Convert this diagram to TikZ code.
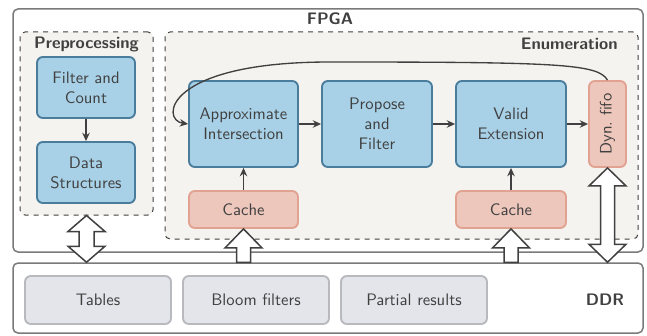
\documentclass[tikz,border=0pt]{standalone}
\usetikzlibrary{calc,arrows.meta}
\renewcommand\familydefault{\sfdefault}
\definecolor{txt}{HTML}{404040}
\definecolor{frame}{HTML}{7A7A7A}
\definecolor{regionbg}{HTML}{F5F3EF}
\definecolor{bluefill}{HTML}{A8D1E7}
\definecolor{blueline}{HTML}{4A7C9C}
\definecolor{pinkfill}{HTML}{EDC6BC}
\definecolor{pinkline}{HTML}{E2A291}
\definecolor{grayfill}{HTML}{E4E5EA}
\definecolor{grayline}{HTML}{B8B9BD}
\tikzset{
  sz/.style 2 args={minimum width=#1*0.6pt, minimum height=#2*0.6pt},
  outerbox/.style={draw=frame, line width=0.9pt, rounded corners=3pt, inner sep=0pt},
  region/.style={draw=txt, dashed, fill=regionbg, line width=0.6pt, rounded corners=3pt, inner sep=0pt},
  unit/.style={draw=blueline, fill=bluefill, line width=1.1pt, rounded corners=3.5pt, inner sep=0pt, align=center, text=txt},
  buffer/.style={draw=pinkline, fill=pinkfill, line width=1.1pt, rounded corners=3.5pt, inner sep=0pt, align=center, text=txt},
  store/.style={draw=grayline, fill=grayfill, line width=1.1pt, rounded corners=3.5pt, inner sep=0pt, align=center, text=txt},
  heading/.style={font=\bfseries, text=txt, inner sep=0pt},
  flow/.style={draw=txt, line width=0.8pt, -{Stealth[length=5pt,width=4.5pt]}},
  bigarrow/.style={draw=txt, fill=white, line width=0.9pt, line join=miter},
}
% wide two-way arrow from tip #1 down to tip #2
\newcommand\twowayarrow[5]{%
  \path[bigarrow] (#1) -- ++(#3,#5) -- ++({#4-#3},0) -- ($(#2)+(#4,-#5)$) -- ++({#3-#4},0)
    -- (#2) -- ++(-#3,-#5) -- ++({#3-#4},0) -- ($(#1)+(-#4,#5)$) -- ++({#4-#3},0) -- cycle;}
% wide one-way arrow pointing up to tip #1 from base #2
\newcommand\upwardarrow[5]{%
  \path[bigarrow] (#1) -- ++(#3,#5) -- ++({#4-#3},0) -- ($(#2)+(#4,0)$) -- ($(#2)+(-#4,0)$)
    -- ($(#1)+(-#4,#5)$) -- ++({#4-#3},0) -- cycle;}
\begin{document}
\begin{tikzpicture}[x=0.6pt,y=-0.6pt]
\useasboundingbox (0,0) rectangle (647,335);

% FPGA and DDR frames
\node[outerbox, sz={630}{243}] (fpga) at (328,130.5) {};
\node[heading] (fpgalabel) at (330,19) {FPGA};
\node[outerbox, sz={630}{70}] (ddr) at (328,298) {};
\node[heading] (ddrlabel) at (605,300) {DDR};

% dashed regions
\node[region, sz={133}{183}] (pre) at (86.5,123.5) {};
\node[heading] (prelabel) at (86.5,44) {Preprocessing};
\node[region, sz={473}{207}] (enum) at (401.5,135.5) {};
\node[heading, anchor=east] (enumlabel) at (618,44) {Enumeration};

% preprocessing units
\node[unit, sz={98}{61}] (fc) at (86,87.5) {Filter and\\Count};
\node[unit, sz={98}{61}] (ds) at (86,172.5) {Data\\Structures};

% enumeration units
\node[unit, sz={109}{86}] (ai) at (243.5,124) {Approximate\\Intersection};
\node[unit, sz={110}{86}] (pf) at (377,124) {Propose\\and\\Filter};
\node[unit, sz={110}{86}] (ve) at (511,124) {Valid\\Extension};
\node[buffer, sz={37}{86}] (fifo) at (607.5,124) {\rotatebox{90}{Dyn.\ fifo}};
\node[buffer, sz={109}{37}] (c1) at (243.5,209.5) {Cache};
\node[buffer, sz={110}{37}] (c2) at (511,209.5) {Cache};

% memory contents
\node[store, sz={146}{48}] (tb) at (98,300) {Tables};
\node[store, sz={146}{48}] (bf) at (256,300) {Bloom filters};
\node[store, sz={146}{48}] (pr) at (414,300) {Partial results};

% data flow
\draw[flow] (fc) -- (ds);
\draw[flow] (ai) -- (pf);
\draw[flow] (pf) -- (ve);
\draw[flow] (ve) -- (fifo);
\draw[flow] (c1) -- (ai);
\draw[flow] (c2) -- (ve);
\draw[flow] (fifo.north) .. controls (598,64) and (560,62) .. (330,62)
  .. controls (165,62) and (160,120) .. (ai.west);

% memory transfers
\coordinate (preddr) at (pre.south |- ddr.north);
\coordinate (c1ddr) at (c1.south |- ddr.north);
\coordinate (c2ddr) at (c2.south |- ddr.north);
\coordinate (fifoddr) at (fifo.south |- ddr.north);
\twowayarrow{pre.south}{preddr}{18.5}{7.5}{16}
\upwardarrow{c1.south}{c1ddr}{18.5}{7}{19}
\upwardarrow{c2.south}{c2ddr}{18.5}{7}{19}
\twowayarrow{fifo.south}{fifoddr}{18.5}{7}{18}
\end{tikzpicture}
\end{document}
